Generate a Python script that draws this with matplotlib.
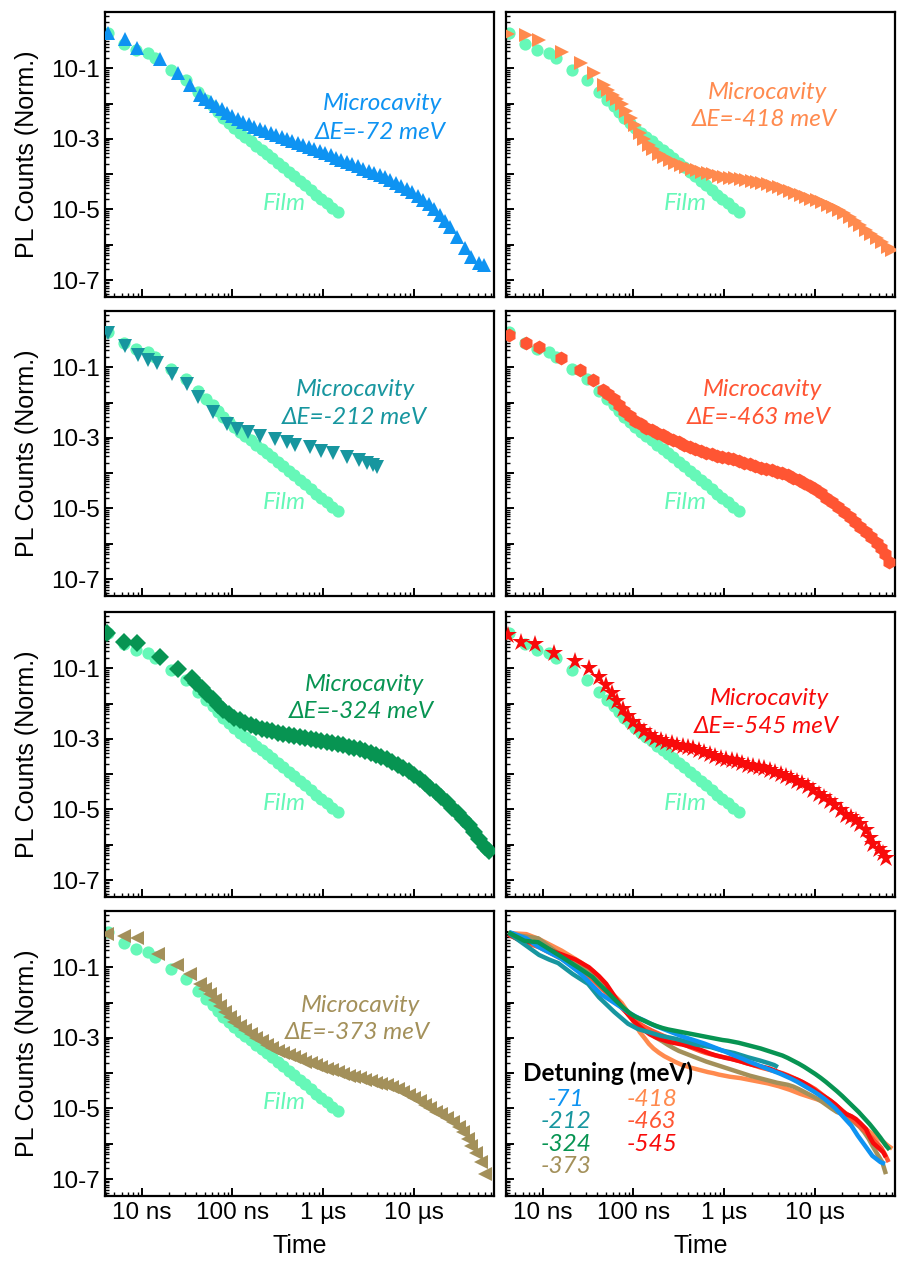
import numpy as np
import matplotlib
matplotlib.use("Agg")
import matplotlib.pyplot as plt
from matplotlib.ticker import LogLocator, FuncFormatter, NullFormatter, FixedLocator

plt.rcParams['font.family'] = ['Liberation Sans', 'DejaVu Sans']

# ---------------------------------------------------------------------------
# Transient PL decays: log10(time / ns) and log10(normalised PL counts)
# ---------------------------------------------------------------------------
film_log_t = [0.63, 0.80, 0.94, 1.07, 1.15, 1.32, 1.49, 1.62, 1.71, 1.78, 1.84,
              1.90, 1.96, 2.02, 2.08, 2.14, 2.20, 2.26, 2.32, 2.38, 2.44, 2.50,
              2.56, 2.62, 2.68, 2.74, 2.80, 2.86, 2.92, 2.98, 3.04, 3.10, 3.16]
film_log_pl = [0.00, -0.32, -0.48, -0.57, -0.70, -1.05, -1.32, -1.68, -1.90, -2.08, -2.24,
               -2.40, -2.55, -2.69, -2.82, -2.95, -3.07, -3.19, -3.31, -3.43, -3.55, -3.67,
               -3.80, -3.93, -4.06, -4.19, -4.32, -4.45, -4.58, -4.70, -4.83, -4.96, -5.08]

# detuning -72 meV
cav72_log_t = [0.63, 0.82, 0.95, 1.20, 1.40, 1.53, 1.64, 1.70, 1.76, 1.82, 1.88, 1.94,
               2.00, 2.06, 2.12, 2.18, 2.24, 2.30, 2.36, 2.42, 2.48, 2.54, 2.60, 2.66,
               2.72, 2.78, 2.84, 2.90, 2.96, 3.02, 3.08, 3.14, 3.20, 3.26, 3.32, 3.38,
               3.44, 3.50, 3.56, 3.62, 3.68, 3.74, 3.80, 3.86, 3.92, 3.98, 4.04, 4.10,
               4.16, 4.22, 4.28, 4.34, 4.40, 4.47, 4.56, 4.63, 4.72, 4.77]
cav72_log_pl = [0.00, -0.18, -0.42, -0.75, -1.14, -1.47, -1.76, -1.86, -1.96, -2.06, -2.16, -2.27,
                -2.36, -2.44, -2.51, -2.59, -2.66, -2.72, -2.78, -2.84, -2.90, -2.96, -3.01, -3.06,
                -3.11, -3.16, -3.22, -3.28, -3.34, -3.40, -3.47, -3.53, -3.59, -3.66, -3.72, -3.78,
                -3.84, -3.90, -3.96, -4.02, -4.09, -4.16, -4.24, -4.33, -4.42, -4.51, -4.61, -4.72,
                -4.85, -4.99, -5.15, -5.32, -5.49, -5.77, -6.09, -6.34, -6.52, -6.57]

# detuning -212 meV
cav212_log_t = [0.63, 0.82, 0.96, 1.07, 1.17, 1.33, 1.50, 1.62, 1.79, 1.94, 2.05, 2.17,
                2.30, 2.47, 2.60, 2.69, 2.85, 2.98, 3.11, 3.26, 3.39, 3.48, 3.55, 3.59]
cav212_log_pl = [-0.04, -0.39, -0.65, -0.78, -0.88, -1.19, -1.47, -1.85, -2.27, -2.60, -2.75, -2.84,
                 -2.94, -3.03, -3.12, -3.19, -3.26, -3.36, -3.43, -3.55, -3.64, -3.71, -3.77, -3.83]

# detuning -324 meV
cav324_log_t = [0.62, 0.80, 0.95, 1.20, 1.40, 1.55, 1.60, 1.66, 1.72, 1.78, 1.84, 1.90,
                1.96, 2.02, 2.08, 2.14, 2.20, 2.26, 2.32, 2.38, 2.44, 2.50, 2.56, 2.62,
                2.68, 2.74, 2.80, 2.86, 2.92, 2.98, 3.04, 3.10, 3.16, 3.22, 3.28, 3.34,
                3.40, 3.46, 3.52, 3.58, 3.64, 3.70, 3.76, 3.82, 3.88, 3.94, 4.00, 4.06,
                4.12, 4.18, 4.24, 4.30, 4.36, 4.42, 4.48, 4.54, 4.60, 4.66, 4.72, 4.78, 4.82]
cav324_log_pl = [-0.01, -0.25, -0.29, -0.69, -1.02, -1.28, -1.42, -1.57, -1.72, -1.88, -2.03, -2.17,
                 -2.30, -2.40, -2.47, -2.54, -2.61, -2.67, -2.72, -2.76, -2.79, -2.82, -2.85, -2.88,
                 -2.91, -2.94, -2.97, -3.00, -3.03, -3.06, -3.08, -3.11, -3.14, -3.18, -3.22, -3.26,
                 -3.30, -3.35, -3.40, -3.45, -3.50, -3.57, -3.65, -3.73, -3.82, -3.92, -4.02, -4.13,
                 -4.25, -4.38, -4.51, -4.65, -4.80, -4.95, -5.10, -5.27, -5.44, -5.63, -5.83, -6.05, -6.17]

# detuning -373 meV
cav373_log_t = [0.62, 0.80, 0.95, 1.18, 1.39, 1.53, 1.64, 1.70, 1.75, 1.81, 1.86, 1.92,
                1.97, 2.02, 2.08, 2.14, 2.20, 2.26, 2.32, 2.38, 2.44, 2.50, 2.56, 2.62,
                2.68, 2.74, 2.80, 2.86, 2.92, 2.98, 3.04, 3.10, 3.16, 3.22, 3.28, 3.34,
                3.40, 3.46, 3.52, 3.58, 3.64, 3.70, 3.76, 3.82, 3.88, 3.94, 4.00, 4.06,
                4.12, 4.18, 4.24, 4.30, 4.36, 4.43, 4.49, 4.54, 4.59, 4.63, 4.68, 4.74, 4.78]
cav373_log_pl = [-0.06, -0.12, -0.18, -0.62, -0.93, -1.19, -1.47, -1.62, -1.76, -1.92, -2.09, -2.27,
                 -2.42, -2.54, -2.66, -2.78, -2.90, -3.01, -3.10, -3.20, -3.29, -3.37, -3.43, -3.49,
                 -3.55, -3.61, -3.67, -3.72, -3.77, -3.82, -3.87, -3.92, -3.97, -4.02, -4.07, -4.11,
                 -4.15, -4.19, -4.23, -4.27, -4.30, -4.33, -4.38, -4.45, -4.53, -4.61, -4.69, -4.78,
                 -4.89, -5.00, -5.10, -5.16, -5.28, -5.39, -5.52, -5.67, -5.86, -6.05, -6.27, -6.52, -6.86]

# detuning -418 meV
cav418_log_t = [0.62, 0.82, 0.96, 1.21, 1.42, 1.56, 1.67, 1.72, 1.77, 1.82, 1.87, 1.92,
                1.97, 2.02, 2.07, 2.12, 2.17, 2.22, 2.28, 2.34, 2.40, 2.46, 2.52, 2.58,
                2.64, 2.70, 2.76, 2.82, 2.88, 2.94, 3.00, 3.06, 3.12, 3.18, 3.24, 3.30,
                3.36, 3.42, 3.48, 3.54, 3.60, 3.66, 3.72, 3.78, 3.84, 3.90, 3.96, 4.02,
                4.08, 4.14, 4.20, 4.26, 4.32, 4.38, 4.44, 4.50, 4.56, 4.62, 4.68, 4.74, 4.80, 4.85]
cav418_log_pl = [-0.03, -0.06, -0.20, -0.53, -0.86, -1.12, -1.47, -1.62, -1.76, -1.88, -2.01, -2.20,
                 -2.40, -2.62, -2.84, -3.00, -3.17, -3.30, -3.42, -3.52, -3.60, -3.68, -3.75, -3.80,
                 -3.85, -3.89, -3.93, -3.97, -4.00, -4.04, -4.07, -4.10, -4.12, -4.14, -4.17, -4.20,
                 -4.23, -4.26, -4.29, -4.33, -4.37, -4.42, -4.47, -4.53, -4.59, -4.64, -4.69, -4.74,
                 -4.80, -4.86, -4.93, -5.02, -5.11, -5.20, -5.32, -5.45, -5.58, -5.70, -5.80, -5.92, -6.05, -6.14]

# detuning -463 meV
cav463_log_t = [0.63, 0.82, 0.96, 1.20, 1.41, 1.55, 1.66, 1.72, 1.78, 1.84, 1.90, 1.96,
                2.02, 2.08, 2.14, 2.20, 2.26, 2.32, 2.38, 2.44, 2.50, 2.56, 2.62, 2.68,
                2.74, 2.80, 2.86, 2.92, 2.98, 3.04, 3.10, 3.16, 3.22, 3.28, 3.34, 3.40,
                3.46, 3.52, 3.58, 3.64, 3.70, 3.76, 3.82, 3.88, 3.94, 4.00, 4.06, 4.12,
                4.19, 4.25, 4.32, 4.38, 4.44, 4.50, 4.56, 4.62, 4.68, 4.73, 4.77, 4.81]
cav463_log_pl = [-0.09, -0.31, -0.43, -0.75, -1.07, -1.35, -1.63, -1.76, -1.90, -2.07, -2.23, -2.37,
                 -2.51, -2.62, -2.71, -2.79, -2.86, -2.93, -3.00, -3.06, -3.13, -3.19, -3.26, -3.32,
                 -3.38, -3.43, -3.47, -3.51, -3.54, -3.57, -3.61, -3.65, -3.70, -3.74, -3.79, -3.84,
                 -3.88, -3.92, -3.96, -4.00, -4.06, -4.13, -4.20, -4.28, -4.36, -4.45, -4.57, -4.69,
                 -4.82, -4.95, -5.11, -5.23, -5.37, -5.52, -5.67, -5.82, -5.97, -6.12, -6.30, -6.52]

# detuning -545 meV
cav545_log_t = [0.62, 0.76, 0.91, 1.13, 1.36, 1.51, 1.62, 1.70, 1.76, 1.82, 1.88, 1.94,
                2.00, 2.06, 2.12, 2.18, 2.24, 2.30, 2.36, 2.42, 2.48, 2.54, 2.60, 2.66,
                2.72, 2.78, 2.84, 2.90, 2.96, 3.02, 3.08, 3.14, 3.20, 3.26, 3.32, 3.38,
                3.44, 3.50, 3.56, 3.62, 3.68, 3.74, 3.80, 3.86, 3.92, 3.98, 4.04, 4.10,
                4.16, 4.22, 4.28, 4.34, 4.40, 4.45, 4.50, 4.56, 4.60, 4.64, 4.70, 4.75, 4.78]
cav545_log_pl = [-0.06, -0.25, -0.31, -0.56, -0.78, -1.00, -1.25, -1.47, -1.70, -1.93, -2.14, -2.34,
                 -2.52, -2.66, -2.79, -2.90, -2.98, -3.04, -3.09, -3.13, -3.16, -3.19, -3.23, -3.27,
                 -3.32, -3.38, -3.44, -3.49, -3.53, -3.57, -3.60, -3.64, -3.68, -3.73, -3.77, -3.80,
                 -3.83, -3.87, -3.93, -4.00, -4.06, -4.12, -4.18, -4.25, -4.34, -4.45, -4.56, -4.66,
                 -4.76, -4.88, -5.02, -5.16, -5.22, -5.30, -5.42, -5.58, -5.80, -5.98, -6.12, -6.24, -6.38]

# ---------------------------------------------------------------------------
FILM_COLOR = "#66F8B8"
C72, C212, C324, C373 = "#0E93F2", "#17969F", "#079452", "#A3905A"
C418, C463, C545 = "#FF8A4E", "#FF5533", "#F80A0A"

series = {
    "-72": (cav72_log_t, cav72_log_pl, C72, "^", 10.0),
    "-418": (cav418_log_t, cav418_log_pl, C418, ">", 10.0),
    "-212": (cav212_log_t, cav212_log_pl, C212, "v", 9.5),
    "-463": (cav463_log_t, cav463_log_pl, C463, "h", 10.0),
    "-324": (cav324_log_t, cav324_log_pl, C324, "D", 8.8),
    "-545": (cav545_log_t, cav545_log_pl, C545, "*", 13.5),
    "-373": (cav373_log_t, cav373_log_pl, C373, "<", 10.0),
}

# annotation positions (axes fraction): microcavity label, detuning label
label_pos = {
    "-72": ((0.712, 0.680), (0.707, 0.578)),
    "-418": ((0.672, 0.719), (0.663, 0.623)),
    "-212": ((0.645, 0.723), (0.640, 0.626)),
    "-463": ((0.659, 0.723), (0.650, 0.625)),
    "-324": ((0.666, 0.747), (0.660, 0.650)),
    "-545": ((0.676, 0.698), (0.670, 0.598)),
    "-373": ((0.656, 0.670), (0.649, 0.572)),
}

order = [["-72", "-418"], ["-212", "-463"], ["-324", "-545"], ["-373", None]]

W, H = 898, 1264
fig = plt.figure(figsize=(W / 100, H / 100), dpi=100)

col_x = [105, 506]
row_top = [12, 311, 612, 911]
ax_w, ax_h = 389, 285

XLIM = (10 ** 0.596, 10 ** 4.88)
YLIM = (10 ** -7.48, 10 ** 0.595)

ANN_FONT = dict(family=['Lato', 'DejaVu Sans'], style='italic', size=17.5)

x_names = {10: "10 ns", 100: "100 ns", 1000: "1 µs", 10000: "10 µs"}
y_decades = [10.0 ** e for e in range(-7, 1)]


def xfmt(v, _):
    return x_names.get(int(round(v)), "")


def yfmt(v, _):
    e = int(round(np.log10(v)))
    return f"10{e}" if e % 2 else ""


def style_axes(ax, left, bottom):
    ax.set_xscale("log")
    ax.set_yscale("log")
    ax.set_xlim(*XLIM)
    ax.set_ylim(*YLIM)
    for s in ax.spines.values():
        s.set_linewidth(1.6)
    ax.xaxis.set_major_locator(FixedLocator(list(x_names.keys())))
    ax.xaxis.set_minor_locator(LogLocator(base=10, subs=np.arange(2, 10), numticks=50))
    ax.yaxis.set_major_locator(FixedLocator(y_decades))
    ax.yaxis.set_minor_locator(LogLocator(base=10, subs=np.arange(2, 10), numticks=50))
    ax.xaxis.set_minor_formatter(NullFormatter())
    ax.yaxis.set_minor_formatter(NullFormatter())
    ax.tick_params(which="both", direction="in", top=False, right=False,
                   labelsize=17.5, colors="black")
    ax.tick_params(which="major", length=6, width=1.4, pad=4)
    ax.tick_params(which="minor", length=3, width=1.0)
    if left:
        ax.yaxis.set_major_formatter(FuncFormatter(yfmt))
        ax.set_ylabel("PL Counts (Norm.)", fontsize=18)
        ax.yaxis.set_label_coords(-0.17, 0.5)
    else:
        ax.tick_params(axis="y", which="both", labelleft=False)
    if bottom:
        ax.xaxis.set_major_formatter(FuncFormatter(xfmt))
        ax.set_xlabel("Time", fontsize=18)
        ax.xaxis.set_label_coords(0.5, -0.135)
    else:
        ax.tick_params(axis="x", which="both", labelbottom=False)


axes = {}
for r, row in enumerate(order):
    for c in range(2):
        x0 = col_x[c] / W
        y0 = 1 - (row_top[r] + ax_h) / H
        ax = fig.add_axes([x0, y0, ax_w / W, ax_h / H])
        style_axes(ax, left=(c == 0), bottom=(r == 3))
        axes[(r, c)] = ax
        key = row[c]
        if key is None:
            continue
        lt, lp, col, mk, ms = series[key]
        ax.plot(10 ** np.array(film_log_t), 10 ** np.array(film_log_pl), "o",
                color=FILM_COLOR, ms=8.8, mew=0, zorder=2)
        ax.plot(10 ** np.array(lt), 10 ** np.array(lp), mk,
                color=col, ms=ms, mew=0, zorder=3)
        (mx, my), (dx, dy) = label_pos[key]
        ax.text(mx, my, "Microcavity", transform=ax.transAxes, color=col,
                ha="center", va="center", **ANN_FONT)
        ax.text(dx, dy, f"ΔE={key} meV", transform=ax.transAxes, color=col,
                ha="center", va="center", **ANN_FONT)
        ax.text(0.460, 0.327, "Film", transform=ax.transAxes, color=FILM_COLOR,
                ha="center", va="center", **ANN_FONT)

# overview of all detunings as lines
ax = axes[(3, 1)]
line_order = ["-418", "-373", "-463", "-545", "-212", "-72", "-324"]
for key in line_order:
    lt, lp, col, _, _ = series[key]
    ax.plot(10 ** np.array(lt), 10 ** np.array(lp), "-", color=col, lw=3.2,
            solid_capstyle="butt", zorder=3)

ax.text(0.262, 0.432, "Detuning (meV)", transform=ax.transAxes, color="black",
        ha="center", va="center", family=['Lato', 'DejaVu Sans'], weight='bold', size=17.5)
legend_left = [("-71", C72), ("-212", C212), ("-324", C324), ("-373", C373)]
legend_right = [("-418", C418), ("-463", C463), ("-545", C545)]
rows_y = [0.340, 0.261, 0.180, 0.103]
for (txt, col), yy in zip(legend_left, rows_y):
    ax.text(0.154, yy, txt, transform=ax.transAxes, color=col,
            ha="center", va="center", **ANN_FONT)
for (txt, col), yy in zip(legend_right, rows_y):
    ax.text(0.375, yy, txt, transform=ax.transAxes, color=col,
            ha="center", va="center", **ANN_FONT)

fig.savefig("out.png", dpi=100)
